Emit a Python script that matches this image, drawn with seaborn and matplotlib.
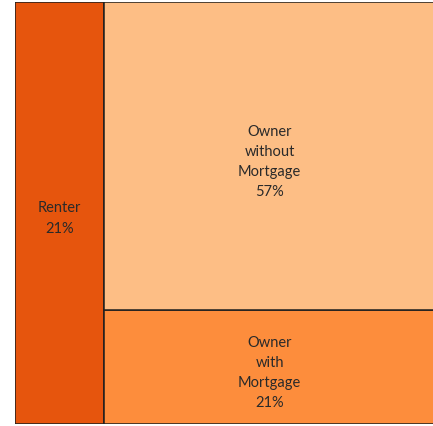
import matplotlib
matplotlib.use("Agg")
import matplotlib.pyplot as plt
import seaborn as sns

# tenure shares (percent)
categories = ["Renter", "Owner\nwithout\nMortgage", "Owner\nwith\nMortgage"]
shares = [21, 57, 21]
colors = ["#e6550d", "#fdbe85", "#fd8d3c"]


def main():
    sns.set_theme(style="white")
    plt.rcParams["font.family"] = ["Lato", "DejaVu Sans"]

    fig = plt.figure(figsize=(4.33, 4.27), dpi=100)
    ax = fig.add_axes([15 / 433, 2 / 427, 420 / 433, 422 / 427])

    total = sum(shares)
    renter_w = shares[0] / total
    owner_total = shares[1] + shares[2]
    edge = "#1f1f1f"
    txt = dict(ha="center", va="center_baseline", fontsize=10.5, color="#2a2a2a",
               linespacing=1.55)

    # renter column on the left
    ax.bar(0, 1, width=renter_w, align="edge", color=colors[0],
           edgecolor=edge, linewidth=1.1)
    ax.text(renter_w / 2, 0.5, f"{categories[0]}\n{shares[0]}%", **txt)

    # owners stacked in the right column
    right_w = 1 - renter_w
    h_with = shares[2] / owner_total
    h_without = shares[1] / owner_total
    ax.bar(renter_w, h_with, width=right_w, bottom=0, align="edge",
           color=colors[2], edgecolor=edge, linewidth=1.1)
    ax.bar(renter_w, h_without, width=right_w, bottom=h_with, align="edge",
           color=colors[1], edgecolor=edge, linewidth=1.1)
    cx = renter_w + right_w / 2
    ax.text(cx, h_with + h_without / 2, f"{categories[1]}\n{shares[1]}%", **txt)
    ax.text(cx, h_with / 2, f"{categories[2]}\n{shares[2]}%", **txt)

    ax.set_xlim(0, 1)
    ax.set_ylim(0, 1)
    ax.set_axis_off()

    fig.savefig("out.png", dpi=100)


if __name__ == "__main__":
    main()
